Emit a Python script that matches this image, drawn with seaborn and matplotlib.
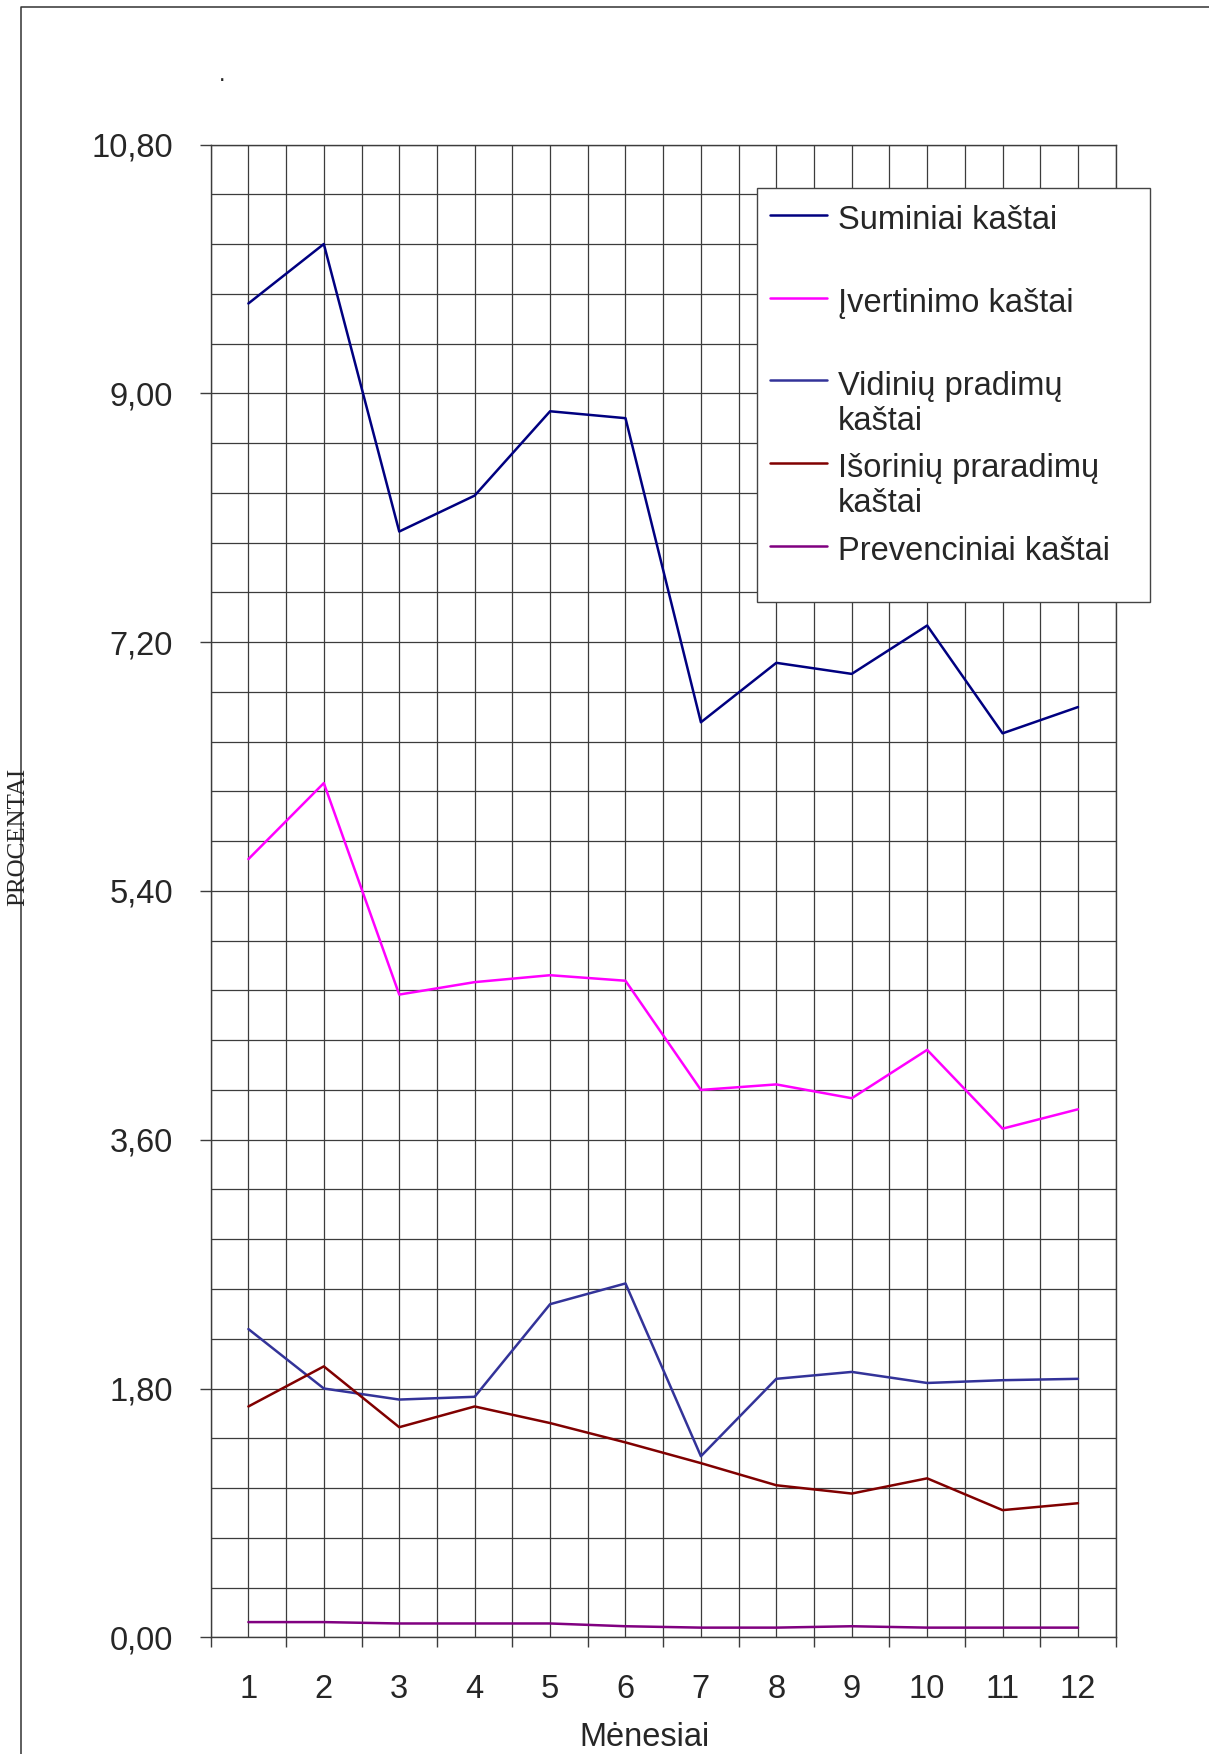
import numpy as np
import pandas as pd
import matplotlib
matplotlib.use("Agg")
import matplotlib.pyplot as plt
from matplotlib.lines import Line2D
from matplotlib.patches import Rectangle
import seaborn as sns

# ---------------- data ----------------
months = [1, 2, 3, 4, 5, 6, 7, 8, 9, 10, 11, 12]
month_labels = [str(m) for m in months]
suminiai = [9.65, 10.08, 8.00, 8.26, 8.87, 8.82, 6.62, 7.05, 6.97, 7.32, 6.54, 6.73]
ivertinimo = [5.63, 6.18, 4.65, 4.74, 4.79, 4.75, 3.96, 4.00, 3.90, 4.25, 3.68, 3.82]
vidiniu = [2.23, 1.80, 1.72, 1.74, 2.41, 2.56, 1.31, 1.87, 1.92, 1.84, 1.86, 1.87]
isoriniu = [1.67, 1.96, 1.52, 1.67, 1.55, 1.41, 1.26, 1.10, 1.04, 1.15, 0.92, 0.97]
prevenciniai = [0.11, 0.11, 0.10, 0.10, 0.10, 0.08, 0.07, 0.07, 0.08, 0.07, 0.07, 0.07]

series_names = ["Suminiai kaštai", "Įvertinimo kaštai", "Vidinių pradimų kaštai",
                "Išorinių praradimų kaštai", "Prevenciniai kaštai"]
legend_lines = [["Suminiai kaštai"], ["Įvertinimo kaštai"], ["Vidinių pradimų", "kaštai"],
                ["Išorinių praradimų", "kaštai"], ["Prevenciniai kaštai"]]
series_values = [suminiai, ivertinimo, vidiniu, isoriniu, prevenciniai]
series_colors = ["#000080", "#FF00FF", "#333399", "#800000", "#800080"]

y_ticks = [0.0, 1.8, 3.6, 5.4, 7.2, 9.0, 10.8]
y_tick_labels = ["0,00", "1,80", "3,60", "5,40", "7,20", "9,00", "10,80"]
y_minor = list(np.round(np.arange(0, 10.81, 0.36), 2))
x_bounds = [m - 0.5 for m in months] + [12.5]

x_title = "Mėnesiai"
y_title = "PROCENTAI"

df = pd.DataFrame({
    "month": months * len(series_names),
    "value": sum(series_values, []),
    "series": [n for n in series_names for _ in months],
})
palette = dict(zip(series_names, series_colors))

# ---------------- style ----------------
sns.set_style("white")
plt.rcParams["font.family"] = ["Liberation Sans", "DejaVu Sans"]
FS = 23.5

W, H = 1209, 1754
def fx(x): return x / W
def fy(y): return 1 - y / H

fig = plt.figure(figsize=(W / 100, H / 100), dpi=100)
ax_l, ax_r, ax_t, ax_b = 210.7, 1115.7, 144.5, 1637.3
ax = fig.add_axes([fx(ax_l), fy(ax_b), (ax_r - ax_l) / W, (ax_b - ax_t) / H])

sns.lineplot(data=df, x="month", y="value", hue="series", palette=palette,
             hue_order=series_names, linewidth=1.8, legend=False, ax=ax,
             estimator=None, sort=False)

grid_c = "#3c3c3c"
ax.set_xlim(0.5, 12.5)
ax.set_ylim(0, 10.8)
ax.set_yticks(y_ticks)
ax.set_yticklabels(y_tick_labels)
ax.set_yticks(y_minor, minor=True)
ax.set_xticks(x_bounds)
ax.set_xticklabels([""] * len(x_bounds))
ax.set_xticks(months, minor=True)
ax.set_xticklabels(month_labels, minor=True)

ax.tick_params(axis="y", which="major", direction="out", length=8, width=1.0,
               color=grid_c, pad=19, labelsize=FS, left=True)
ax.tick_params(axis="y", which="minor", length=0, left=False)
ax.tick_params(axis="x", which="major", direction="out", length=7, width=1.0,
               color=grid_c, bottom=True)
ax.tick_params(axis="x", which="minor", length=0, pad=26.5, labelsize=FS, bottom=True)

ax.grid(True, which="both", color=grid_c, linewidth=0.9)
ax.set_axisbelow(True)
for s in ax.spines.values():
    s.set_color(grid_c)
    s.set_linewidth(1.0)
ax.set_xlabel("")
ax.set_ylabel("")

# axis titles
fig.text(fx(644), fy(1746), x_title, ha="center", va="baseline", fontsize=FS)
fig.text(fx(18), fy(837), y_title, ha="center", va="center", rotation=90,
         fontsize=18, family=["Liberation Serif", "DejaVu Serif"])
fig.text(fx(221.7), fy(81), ".", ha="center", va="baseline", fontsize=17)

# figure frame (left and top edges)
fig.add_artist(Line2D([fx(20.7), fx(20.7), 1.0], [0.0, fy(7.3), fy(7.3)],
                      transform=fig.transFigure, color="#333333", linewidth=1.1))

# legend
lx0, ly0, lx1, ly1 = 756.7, 188.3, 1150, 602.3
fig.add_artist(Rectangle((fx(lx0), fy(ly1)), (lx1 - lx0) / W, (ly1 - ly0) / H,
                         transform=fig.transFigure, facecolor="white",
                         edgecolor="#444444", linewidth=1.0, zorder=5))
for i, (lines, col) in enumerate(zip(legend_lines, series_colors)):
    hy = 215 + 82.7 * i
    fig.add_artist(Line2D([fx(770), fx(826.7)], [fy(hy), fy(hy)],
                          transform=fig.transFigure, color=col, linewidth=1.8, zorder=6))
    for j, t in enumerate(lines):
        fig.text(fx(838), fy(229.3 + 82.7 * i + 35 * j), t, ha="left",
                 va="baseline", fontsize=FS, zorder=7)

fig.savefig("out.png", dpi=100)
